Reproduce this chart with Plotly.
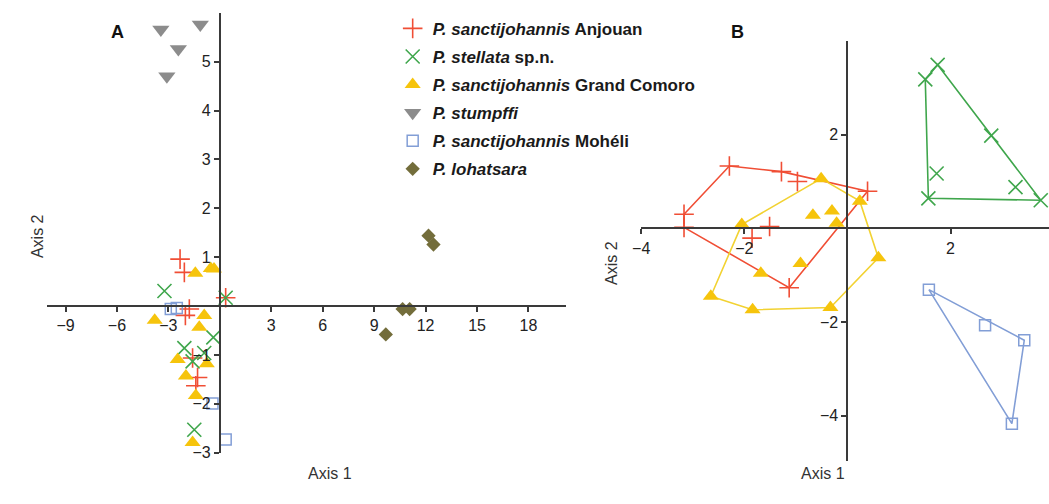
import plotly.graph_objects as go

W, H = 1049, 504

# ---------------- Panel A data ----------------
A_anj_x = [-2.32, -2.07, -1.78, -2.01, 0.34, -1.59, -1.30, -1.40]
A_anj_y = [0.96, 0.69, -0.06, -0.19, 0.17, -1.06, -1.46, -1.63]
A_ste_x = [-3.23, 0.34, -0.38, -2.07, -0.91, -1.59, -1.49]
A_ste_y = [0.31, 0.17, -0.64, -0.86, -0.96, -1.13, -2.53]
A_gc_x = [-1.43, -0.53, -0.34, -3.80, -0.91, -1.20, -2.46, -0.76, -1.98, -1.40, -1.59]
A_gc_y = [0.67, 0.77, 0.76, -0.29, -0.19, -0.43, -1.09, -1.18, -1.43, -1.83, -2.79]
A_stu_x = [-3.44, -1.14, -2.42, -3.09]
A_stu_y = [5.66, 5.76, 5.26, 4.70]
A_moh_x = [-2.86, -2.51, -0.43, 0.34]
A_moh_y = [-0.06, -0.04, -1.99, -2.73]
A_loh_x = [12.17, 12.46, 10.66, 11.07, 9.68]
A_loh_y = [1.44, 1.26, -0.06, -0.06, -0.58]

# ---------------- Panel B data ----------------
B_anj_x = [-2.29, -1.28, -0.97, 0.39, -3.17, -3.17, -1.51, -1.85, -1.13]
B_anj_y = [1.33, 1.21, 1.00, 0.79, 0.30, 0.02, 0.04, -0.21, -1.27]
B_ste_x = [1.51, 1.75, 2.79, 1.73, 3.26, 1.57, 3.75]
B_ste_y = [3.18, 3.49, 1.98, 1.17, 0.88, 0.64, 0.60]
B_gc_x = [-0.51, 0.24, -0.67, -0.30, -0.21, -2.05, 0.60, -0.91, -1.68, -2.65, -1.84, -0.33]
B_gc_y = [1.06, 0.58, 0.28, 0.37, 0.11, 0.08, -0.63, -0.75, -0.96, -1.45, -1.74, -1.69]
B_moh_x = [1.58, 2.67, 3.43, 3.19]
B_moh_y = [-1.31, -2.07, -2.39, -4.17]

A_xticks = [-9, -6, -3, 3, 6, 9, 12, 15, 18]
A_yticks = [-3, -2, -1, 1, 2, 3, 4, 5]
B_xticks = [-4, -2, 2]
B_yticks = [-4, -2, 2]

names = {
    "anj": "<i>P. sanctijohannis</i> Anjouan",
    "ste": "<i>P. stellata</i> sp.n.",
    "gc": "<i>P. sanctijohannis</i> Grand Comoro",
    "stu": "<i>P. stumpffi</i>",
    "moh": "<i>P. sanctijohannis</i> Mohéli",
    "loh": "<i>P. lohatsara</i>",
}

C_RED = "#f04e35"
C_GREEN = "#3fa64c"
C_YEL = "#f6c40c"
C_YEL_LINE = "#f2d232"
C_GREY = "#8c8c8c"
C_BLUE = "#829ed6"
C_OLIVE = "#736d3b"
AX = "#3a3a3a"
FONT = "Liberation Sans, Arial, sans-serif"

styles = {
    "anj": dict(symbol="cross-thin", size=14, color=C_RED, line=dict(width=1.6, color=C_RED)),
    "ste": dict(symbol="x-thin", size=14, color=C_GREEN, line=dict(width=1.6, color=C_GREEN)),
    "gc": dict(symbol="triangle-up", size=14, color=C_YEL, line=dict(width=0)),
    "stu": dict(symbol="triangle-down", size=15, color=C_GREY, line=dict(width=0)),
    "moh": dict(symbol="square-open", size=11, color=C_BLUE, line=dict(width=1.5, color=C_BLUE)),
    "loh": dict(symbol="diamond", size=11, color=C_OLIVE, line=dict(width=0)),
}


def hull(xs, ys):
    pts = sorted(set(zip(xs, ys)))
    if len(pts) < 3:
        return pts

    def cross(o, a, b):
        return (a[0] - o[0]) * (b[1] - o[1]) - (a[1] - o[1]) * (b[0] - o[0])

    lower, upper = [], []
    for p in pts:
        while len(lower) >= 2 and cross(lower[-2], lower[-1], p) <= 0:
            lower.pop()
        lower.append(p)
    for p in reversed(pts):
        while len(upper) >= 2 and cross(upper[-2], upper[-1], p) <= 0:
            upper.pop()
        upper.append(p)
    h = lower[:-1] + upper[:-1]
    return h + [h[0]]


fig = go.Figure()

A_sets = [("anj", A_anj_x, A_anj_y), ("ste", A_ste_x, A_ste_y), ("gc", A_gc_x, A_gc_y),
          ("stu", A_stu_x, A_stu_y), ("moh", A_moh_x, A_moh_y), ("loh", A_loh_x, A_loh_y)]
for key, xs, ys in A_sets:
    fig.add_trace(go.Scatter(x=xs, y=ys, mode="markers", name=names[key], legendgroup=key,
                             marker=styles[key], xaxis="x", yaxis="y", cliponaxis=False))

B_sets = [("anj", B_anj_x, B_anj_y, C_RED), ("ste", B_ste_x, B_ste_y, C_GREEN),
          ("gc", B_gc_x, B_gc_y, C_YEL_LINE), ("moh", B_moh_x, B_moh_y, C_BLUE)]
for key, xs, ys, lc in B_sets:
    h = hull(xs, ys)
    fig.add_trace(go.Scatter(x=[p[0] for p in h], y=[p[1] for p in h], mode="lines",
                             line=dict(color=lc, width=1.6), showlegend=False,
                             legendgroup=key, xaxis="x2", yaxis="y2", hoverinfo="skip"))
for key, xs, ys, lc in B_sets:
    fig.add_trace(go.Scatter(x=xs, y=ys, mode="markers", name=names[key], legendgroup=key,
                             showlegend=False, marker=styles[key], xaxis="x2", yaxis="y2",
                             cliponaxis=False))

# axis geometry
A_xdom = [38 / W, 562 / W]
A_xr = [-10.1, 20.2]
A_ydom = [1 - 461 / H, 1 - 13 / H]
A_yr = [-3, 6]
B_xdom = [637.7 / W, 1.0]
B_xr = [-4, 3.91]
B_ydom = [1 - 469 / H, 1 - 41.7 / H]
B_yr = [-4.96, 4.0]


def zero_pos(dom, rng):
    return dom[0] + (0 - rng[0]) / (rng[1] - rng[0]) * (dom[1] - dom[0])


common = dict(showgrid=False, zeroline=False, showline=True, linecolor=AX, linewidth=2,
              ticks="outside", ticklen=5, tickwidth=1.5, tickcolor=AX,
              tickfont=dict(family=FONT, size=16, color="#222"), anchor="free")

fig.update_layout(
    xaxis=dict(domain=A_xdom, range=A_xr, tickvals=A_xticks, position=zero_pos(A_ydom, A_yr), **common),
    yaxis=dict(domain=A_ydom, range=A_yr, tickvals=A_yticks, position=zero_pos(A_xdom, A_xr), **common),
    xaxis2=dict(domain=B_xdom, range=B_xr, tickvals=B_xticks, position=zero_pos(B_ydom, B_yr), **common),
    yaxis2=dict(domain=B_ydom, range=B_yr, tickvals=B_yticks, position=zero_pos(B_xdom, B_xr), **common),
    width=W, height=H, margin=dict(l=0, r=0, t=0, b=0),
    paper_bgcolor="white", plot_bgcolor="white",
    showlegend=True,
    legend=dict(x=387 / W, y=1 - 11 / H, xanchor="left", yanchor="top",
                font=dict(family=FONT, size=17, color="#1a1a1a", weight="bold"),
                bgcolor="rgba(0,0,0,0)", traceorder="grouped", tracegroupgap=3,
                itemsizing="trace"),
)

ann_font = dict(family=FONT, size=16, color="#333")
annotations = [
    dict(text="Axis 1", x=300 / W, y=1 - 493 / H, xref="paper", yref="paper", showarrow=False, font=ann_font),
    dict(text="Axis 2", x=18 / W, y=1 - 240 / H, xref="paper", yref="paper", showarrow=False, font=ann_font, textangle=-90),
    dict(text="Axis 1", x=845 / W, y=1 - 493 / H, xref="paper", yref="paper", showarrow=False, font=ann_font),
    dict(text="Axis 2", x=607 / W, y=1 - 268 / H, xref="paper", yref="paper", showarrow=False, font=ann_font, textangle=-90),
    dict(text="<b>A</b>", x=101 / W, y=1 - 20 / H, xref="paper", yref="paper", showarrow=False,
         font=dict(family=FONT, size=18, color="#111")),
    dict(text="<b>B</b>", x=743 / W, y=1 - 20 / H, xref="paper", yref="paper", showarrow=False,
         font=dict(family=FONT, size=18, color="#111")),
]
fig.update_layout(annotations=annotations)

fig.write_html("out.html")
